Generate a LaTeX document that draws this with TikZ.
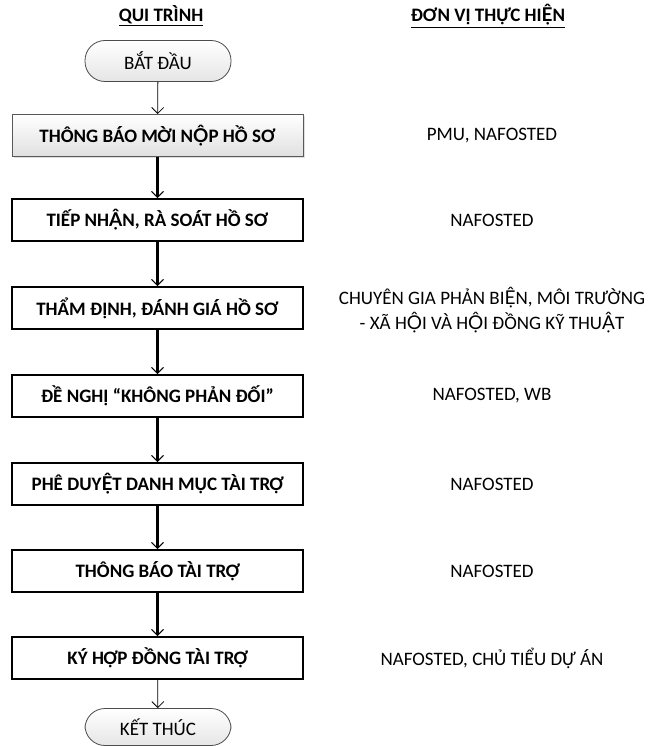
\documentclass[tikz,border=0pt]{standalone}
\usepackage{fontspec}
\setmainfont{Carlito}
\newfontfamily\vnfix{Lato}
\newcommand{\vx}[1]{{\vnfix #1}}
\usetikzlibrary{arrows.meta,shadows}
\begin{document}
\begin{tikzpicture}[x=1pt,y=-1pt,
 proc/.style={draw=black,line width=1.7pt,fill=white,minimum width=291pt,minimum height=42pt,inner sep=0pt,font=\bfseries\fontsize{19}{23}\selectfont},
 first/.style={proc,draw=black!65,line width=1pt,top color=white,bottom color=black!12,drop shadow={opacity=0.25,shadow xshift=2pt,shadow yshift=-2pt}},
 term/.style={draw=black!70,line width=0.8pt,rounded corners=20pt,minimum width=146pt,minimum height=41pt,inner sep=0pt,top color=white,bottom color=black!10,font=\fontsize{19}{23}\selectfont},
 unit/.style={align=center,font=\fontsize{19}{25}\selectfont},
 head/.style={font=\bfseries\fontsize{19}{23}\selectfont},
 thinarrow/.style={draw,line width=0.8pt,-{Straight Barb[length=6pt,width=12pt,line width=0.8pt]}},
 thickarrow/.style={draw,line width=2.3pt,-{Straight Barb[length=6pt,width=12pt,line width=1pt]}}
]
\useasboundingbox (0,0) rectangle (662,746);
\node[head] (h1) at (161,16) {\underline{QUI TRÌNH}};
\node[head] (h2) at (488,16) {\underline{ĐƠN VỊ THỰC HI\vx{Ệ}N}};

\node[term] (start) at (158,61) {BẮT ĐẦU};
\node[first] (b1) at (157.5,135.5) {THÔNG BÁO MỜI N\vx{Ộ}P HỒ SƠ};
\node[proc] (b2) at (157.5,220) {TIẾP NH\vx{Ậ}N, RÀ SOÁT HỒ SƠ};
\node[proc] (b3) at (157.5,308) {THẨM ĐỊNH, ĐÁNH GIÁ HỒ SƠ};
\node[proc] (b4) at (157.5,396) {ĐỀ NGHỊ “KHÔNG PHẢN ĐỐI”};
\node[proc] (b5) at (157.5,484) {PHÊ DUY\vx{Ệ}T DANH MỤC TÀI TRỢ};
\node[proc] (b6) at (157.5,571) {THÔNG BÁO TÀI TRỢ};
\node[proc] (b7) at (157.5,658) {KÝ HỢP ĐỒNG TÀI TRỢ};
\node[term,minimum height=37pt] (end) at (158,727) {KẾT THÚC};

\draw[thinarrow] (start) -- (b1);
\draw[thickarrow] (b1) -- (b2);
\draw[thickarrow] (b2) -- (b3);
\draw[thickarrow] (b3) -- (b4);
\draw[thickarrow] (b4) -- (b5);
\draw[thickarrow] (b5) -- (b6);
\draw[thickarrow] (b6) -- (b7);
\draw[thinarrow] (b7) -- (end);

\node[unit] (u1) at (492,135.5) {PMU, NAFOSTED};
\node[unit] (u2) at (492,220) {NAFOSTED};
\node[unit] (u3) at (492,310) {CHUYÊN GIA PHẢN BI\vx{Ệ}N, MÔI TRƯỜNG\\- XÃ H\vx{Ộ}I VÀ H\vx{Ộ}I ĐỒNG KỸ THU\vx{Ậ}T};
\node[unit] (u4) at (492,396) {NAFOSTED, WB};
\node[unit] (u5) at (492,484) {NAFOSTED};
\node[unit] (u6) at (492,571) {NAFOSTED};
\node[unit] (u7) at (492,658) {NAFOSTED, CHỦ TIỂU DỰ ÁN};
\end{tikzpicture}
\end{document}
